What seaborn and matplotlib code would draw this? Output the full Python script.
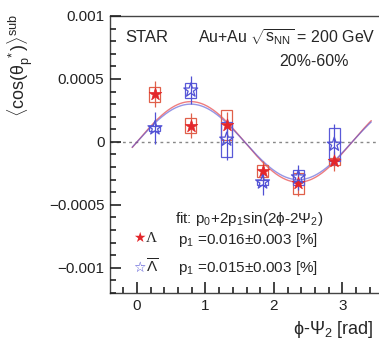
import numpy as np
import pandas as pd
import matplotlib
matplotlib.use("Agg")
import matplotlib.pyplot as plt
from matplotlib.ticker import MultipleLocator
import seaborn as sns

# ---------------- data ----------------
phi_bins = [0.262, 0.785, 1.309, 1.833, 2.356, 2.880]
lam_vals = [0.00038, 0.00013, 0.000135, -0.00023, -0.00033, -0.000155]
lam_stat = [0.00010, 0.00010, 0.00010, 0.00008, 0.00010, 0.00008]
lam_sys = [0.00006, 0.00006, 0.00012, 0.00005, 0.00008, 0.00003]
alam_vals = [0.00011, 0.00041, 0.00002, -0.00032, -0.00028, -0.00002]
alam_stat = [0.00013, 0.00011, 0.00016, 0.00010, 0.00010, 0.00016]
alam_sys = [0.00002, 0.00006, 0.00014, 0.00002, 0.00006, 0.00013]
fit_p0 = [0.0, 0.0]
fit_p1 = [0.00016, 0.00015]
yticks = [-0.001, -0.0005, 0.0, 0.0005, 0.001]
ytick_labels = ["\u22120.001", "\u22120.0005", "0", "0.0005", "0.001"]
xticks = [0, 1, 2, 3]
xtick_labels = ["0", "1", "2", "3"]

RED = "#e3262a"
RED_BOX = "#e0604a"
BLUE = "#5050d4"
BLUE_BOX = "#5a5ad8"

sns.set_style("ticks", {"axes.axisbelow": False,
                        "xtick.direction": "in", "ytick.direction": "in"})
plt.rcParams.update({
    "font.family": ["Liberation Sans", "DejaVu Sans"],
    "mathtext.fontset": "custom",
    "mathtext.rm": "Liberation Sans",
    "mathtext.it": "Liberation Sans",
    "mathtext.bf": "Liberation Sans:bold",
})

fig = plt.figure(figsize=(3.79, 3.47), dpi=100)
ax = fig.add_axes([110 / 379, 54 / 347, 269 / 379, 277 / 347])

df_l = pd.DataFrame({"x": phi_bins, "y": lam_vals, "e": lam_stat, "s": lam_sys})
df_a = pd.DataFrame({"x": phi_bins, "y": alam_vals, "e": alam_stat, "s": alam_sys})

ax.axhline(0, color="#888888", lw=1.0, ls=(0, (2, 2.5)), zorder=1)

xf = np.linspace(-0.07, 3.42, 300)
for p0, p1, c in zip(fit_p0, fit_p1, [RED, BLUE]):
    fdf = pd.DataFrame({"x": xf, "y": p0 + 2 * p1 * np.sin(2 * xf)})
    sns.lineplot(data=fdf, x="x", y="y", ax=ax, color=c, lw=1.0, alpha=0.6, zorder=2)

ax.bar(df_l["x"], 2 * df_l["s"], bottom=df_l["y"] - df_l["s"], width=0.16,
       fill=False, edgecolor=RED_BOX, lw=0.9, zorder=3)
ax.bar(df_a["x"], 2 * df_a["s"], bottom=df_a["y"] - df_a["s"], width=0.16,
       fill=False, edgecolor=BLUE_BOX, lw=0.9, zorder=3)

ax.errorbar(df_l["x"], df_l["y"], yerr=df_l["e"], fmt="none", ecolor=RED_BOX, elinewidth=0.9, zorder=4)
ax.errorbar(df_a["x"], df_a["y"], yerr=df_a["e"], fmt="none", ecolor=BLUE, elinewidth=0.9, zorder=4)

sns.scatterplot(data=df_l, x="x", y="y", ax=ax, marker="*", s=90, color=RED,
                edgecolor=RED, linewidth=0.5, zorder=5)
sns.scatterplot(data=df_a, x="x", y="y", ax=ax, marker="*", s=110, facecolor="none",
                edgecolor=BLUE, linewidth=0.9, zorder=5)

ax.set_xlabel("")
ax.set_ylabel("")
for side in ["left", "bottom", "top"]:
    ax.spines[side].set_color("#444444")
    ax.spines[side].set_linewidth(1.0)
ax.spines["right"].set_visible(False)

ax.set_xlim(-0.394, 3.533)
ax.set_ylim(-0.0012, 0.001)
ax.set_xticks(xticks, xtick_labels)
ax.set_yticks(yticks, ytick_labels)
ax.xaxis.set_minor_locator(MultipleLocator(0.2))
ax.yaxis.set_minor_locator(MultipleLocator(0.0001))
ax.tick_params(axis="both", which="both", direction="in", left=True, bottom=True,
               top=False, right=False, color="#222222")
ax.tick_params(axis="both", which="major", length=8, width=1.2, labelsize=11,
               labelcolor="#222222", pad=4)
ax.tick_params(axis="both", which="minor", length=4, width=1.2)

fig.canvas.draw()

# texts
fig.text(125 / 379, 1 - 37 / 347, "STAR", fontsize=12, va="center", ha="left")
fig.text(198 / 379, 1 - 37 / 347, r"Au+Au $\sqrt{s_{\rm NN}}$ = 200 GeV", fontsize=11.5,
         va="center", ha="left")
fig.text(314 / 379, 1 - 62 / 347, "20%-60%", fontsize=11.5, va="center", ha="center")

fig.text(175 / 379, 1 - 219 / 347, r"fit: p$_0$+2p$_1$sin(2$\mathrm{\phi}$-2$\Psi_2$)", fontsize=11,
         va="center", ha="left")
fig.text(178 / 379, 1 - 240 / 347, r"p$_1$ =0.016$\pm$0.003 [%]", fontsize=11,
         va="center", ha="left")
fig.text(178 / 379, 1 - 268 / 347, r"p$_1$ =0.015$\pm$0.003 [%]", fontsize=11,
         va="center", ha="left")
fig.text(133 / 379, 1 - 238 / 347, "\u2605", color=RED, fontsize=10, family=["DejaVu Sans"],
         va="center", ha="left")
fig.text(146 / 379, 1 - 238 / 347, "\u039b", fontsize=11, family=["Liberation Serif"],
         va="center", ha="left")
fig.text(133 / 379, 1 - 268 / 347, "\u2606", color=BLUE, fontsize=10, family=["DejaVu Sans"],
         va="center", ha="left")
fig.text(146 / 379, 1 - 267 / 347, r"$\overline{\mathrm{\Lambda}}$", fontsize=11,
         va="center", ha="left")

fig.text(20 / 379, 1 - 14 / 347, r"$\langle\cos(\theta_{p}^{\ *})\rangle^{\rm sub}$",
         rotation=90, fontsize=13, va="top", ha="center")
fig.text(374 / 379, 1 - 330 / 347, r"$\mathrm{\phi}$-$\Psi_2$ [rad]", fontsize=13,
         va="center", ha="right")

fig.savefig("out.png", dpi=100)
